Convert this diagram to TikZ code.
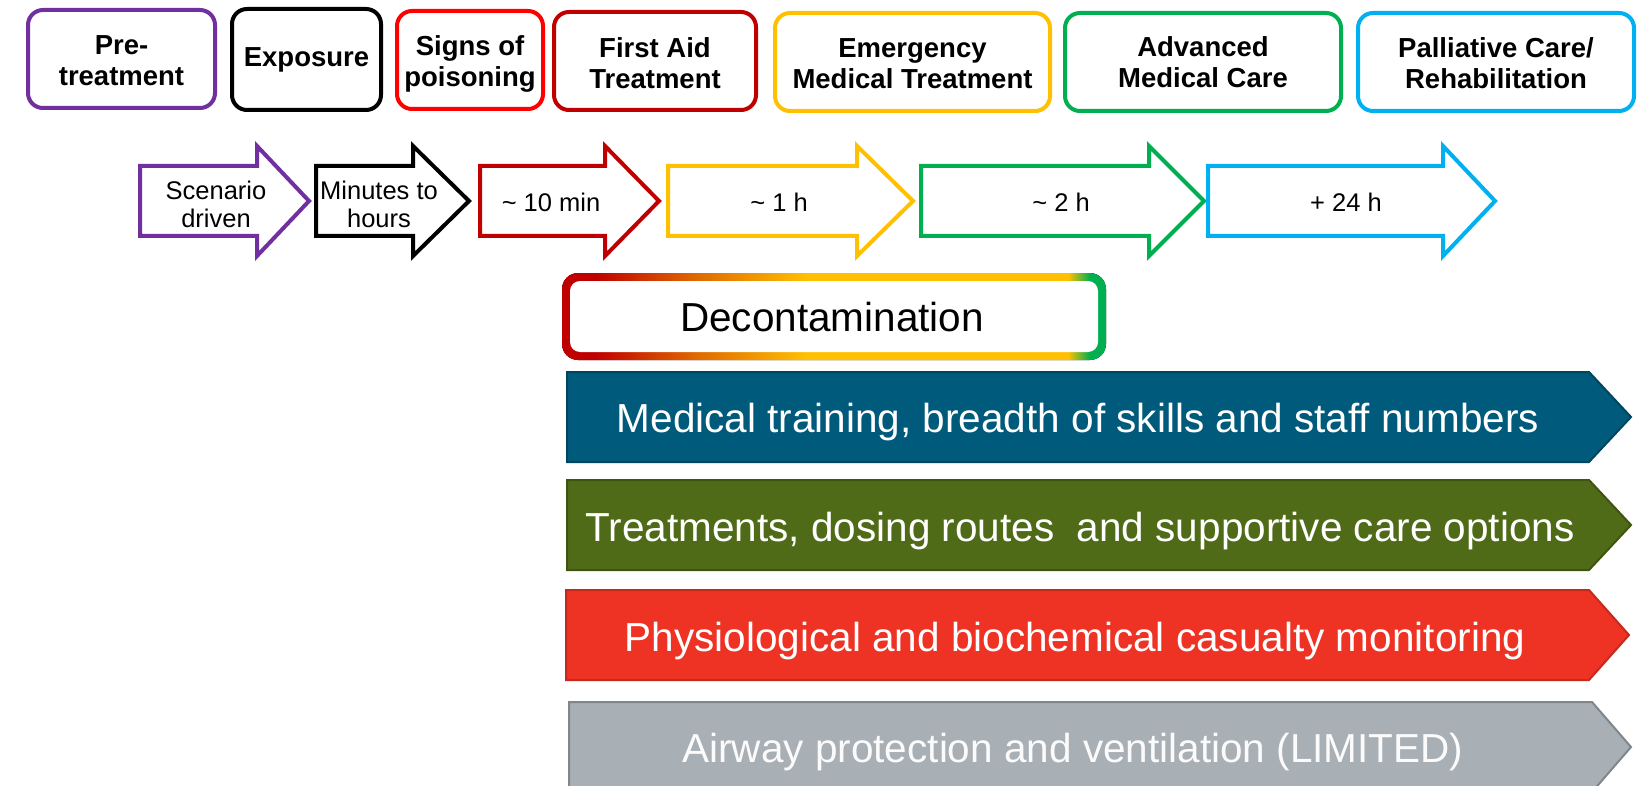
\documentclass[tikz,border=0pt]{standalone}
\usepackage{fontspec}
\setmainfont{Liberation Sans}
\definecolor{purp}{HTML}{7030A0}
\definecolor{tred}{HTML}{FF0000}
\definecolor{dred}{HTML}{C00000}
\definecolor{orng}{HTML}{E06A00}
\definecolor{gold}{HTML}{FFC000}
\definecolor{grn}{HTML}{00B050}
\definecolor{sky}{HTML}{00B0F0}
\definecolor{bblue}{HTML}{005A7B}
\definecolor{bblueD}{HTML}{00465F}
\definecolor{bolive}{HTML}{506B17}
\definecolor{boliveD}{HTML}{3E5410}
\definecolor{bred}{HTML}{EE3224}
\definecolor{bredD}{HTML}{C42A1E}
\definecolor{bgrey}{HTML}{A8AFB5}
\definecolor{bgreyD}{HTML}{80878C}
\pgfdeclarehorizontalshading{decograd}{100bp}{color(0bp)=(dred); color(25bp)=(dred); color(28bp)=(dred); color(37.5bp)=(orng); color(47.5bp)=(gold); color(71.5bp)=(gold); color(73.5bp)=(grn); color(100bp)=(grn)}
\newcommand{\timearr}[4]{\draw[timearrow, draw=#4] (#1,166) -- (#2,166) -- (#2,146) -- (#3,201) -- (#2,256) -- (#2,236) -- (#1,236) -- cycle;}
\begin{document}
\begin{tikzpicture}[x=1pt,y=-1pt,
  topbox/.style={draw, line width=4pt, rounded corners=15pt, inner sep=0pt},
  toptxt/.style={align=center, font=\fontsize{27.5}{31}\selectfont\bfseries, inner sep=0pt},
  timearrow/.style={line width=4pt, line join=miter, fill=white},
  arrtxt/.style={align=center, font=\fontsize{25.5}{28}\selectfont, inner sep=0pt},
  band/.style={line width=2pt},
  bandtxt/.style={text=white, font=\fontsize{40.5}{44}\selectfont, inner sep=0pt, anchor=base}]
\useasboundingbox (0,0) rectangle (1640,786);
\clip (0,0) rectangle (1640,786);
\fill[white] (0,0) rectangle (1640,786);

% top phase boxes
\node[topbox, draw=purp, minimum width=187pt, minimum height=98pt] (pre) at (121.5,59) {};
\node[topbox, draw=black, minimum width=149pt, minimum height=101pt] (exp) at (306.5,59.5) {};
\node[topbox, draw=tred, minimum width=146pt, minimum height=98pt] (sig) at (470,60) {};
\node[topbox, draw=dred, minimum width=202pt, minimum height=98pt] (fa) at (655,61) {};
\node[topbox, draw=gold, minimum width=275pt, minimum height=98pt] (emt) at (912.5,62) {};
\node[topbox, draw=grn, minimum width=276pt, minimum height=98pt] (amc) at (1203,62) {};
\node[topbox, draw=sky, minimum width=276pt, minimum height=98pt] (pal) at (1496,62) {};
\node[toptxt, yshift=-2pt] (preT) at (pre.center) {Pre-\\treatment};
\node[toptxt] (expT) at (exp.center) {Exposure};
\node[toptxt, yshift=-4pt] (sigT) at (sig.center) {Signs of\\poisoning};
\node[toptxt, yshift=-2pt] (faT) at (fa.center) {First Aid\\Treatment};
\node[toptxt, yshift=-1.5pt] (emtT) at (emt.center) {Emergency\\Medical Treatment};
\node[toptxt] (amcT) at (amc.center) {Advanced\\Medical Care};
\node[toptxt, yshift=-1.5pt] (palT) at (pal.center) {Palliative Care/\\Rehabilitation};

% time arrows
\timearr{140}{257}{309}{purp}
\timearr{316}{413}{469}{black}
\timearr{480}{605}{659}{dred}
\timearr{668}{857}{913}{gold}
\timearr{921}{1149}{1204}{grn}
\timearr{1208}{1443}{1495}{sky}
\node[arrtxt] (t1) at (216,204) {Scenario\\driven};
\node[arrtxt] (t2) at (379,204) {Minutes to\\hours};
\node[arrtxt] (t3) at (551,202) {\textasciitilde{} 10 min};
\node[arrtxt] (t4) at (779,202) {\textasciitilde{} 1 h};
\node[arrtxt] (t5) at (1061,202) {\textasciitilde{} 2 h};
\node[arrtxt] (t6) at (1346,202) {+ 24 h};

% decontamination
\fill[shading=decograd, rounded corners=16pt] (562,273) rectangle (1106,360);
\fill[white, rounded corners=10pt] (570,281) rectangle (1098,352);
\node[font=\fontsize{40.5}{44}\selectfont, inner sep=0pt] (dec) at (832,317) {Decontamination};

% bands
\draw[band, fill=bblue, draw=bblueD] (567,372) -- (1589,372) -- (1631,417) -- (1589,462) -- (567,462) -- cycle;
\node[bandtxt] (b1) at (1078,432) {Medical training, breadth of skills and staff numbers};
\draw[band, fill=bolive, draw=boliveD] (567,480) -- (1589,480) -- (1631,525) -- (1589,570) -- (567,570) -- cycle;
\node[bandtxt] (b2) at (1080,541) {Treatments, dosing routes\ \ and supportive care options};
\draw[band, fill=bred, draw=bredD] (566,590) -- (1589,590) -- (1629,635) -- (1589,680) -- (566,680) -- cycle;
\node[bandtxt] (b3) at (1075,651) {Physiological and biochemical casualty monitoring};
\draw[band, fill=bgrey, draw=bgreyD] (569,702) -- (1592,702) -- (1631,747) -- (1592,792) -- (569,792) -- cycle;
\node[bandtxt, text=white!95!bgrey] (b4) at (1073,762) {Airway protection and ventilation (LIMITED)};
\end{tikzpicture}
\end{document}
